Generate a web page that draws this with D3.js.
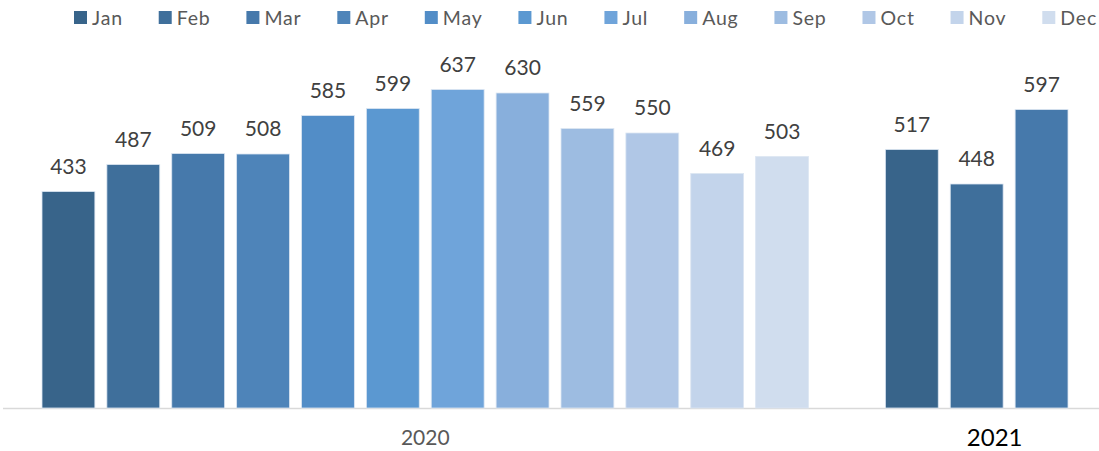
<!DOCTYPE html>
<html>
<head>
<meta charset="utf-8">
<script src="https://cdn.jsdelivr.net/npm/d3@7.9.0/dist/d3.min.js"></script>
<style>
  html, body { margin: 0; padding: 0; background: #fff; }
  svg { display: block; font-family: Lato, "Open Sans", sans-serif; }
</style>
</head>
<body>
<svg id="chart" width="1099" height="451"></svg>
<script>
// data
const months = ['Jan', 'Feb', 'Mar', 'Apr', 'May', 'Jun', 'Jul', 'Aug', 'Sep', 'Oct', 'Nov', 'Dec'];
const years = ['2020', '2021'];
const values2020 = [433, 487, 509, 508, 585, 599, 637, 630, 559, 550, 469, 503];
const values2021 = [517, 448, 597];
const monthColors = ['#38648a', '#3f6f9b', '#4679ab', '#4e84b9', '#528dc7', '#5b98d1',
                     '#6fa4da', '#88afdc', '#9dbce1', '#b0c7e6', '#c3d4eb', '#d0ddee'];

const svg = d3.select('#chart');
const width = 1099, baseY = 408;

// one row per bar, plus an empty slot between the years
let bars = [];
values2020.forEach((v, i) => bars.push({ key: '2020-' + months[i], year: '2020', month: i, value: v }));
values2021.forEach((v, i) => bars.push({ key: '2021-' + months[i], year: '2021', month: i, value: v }));
let slots = bars.slice(0, 12).map(d => d.key).concat(['gap'], bars.slice(12).map(d => d.key));

let x = d3.scaleBand().domain(slots).range([36, 1074]).paddingInner(0.185).paddingOuter(0.0925);
let y = d3.scaleLinear().domain([0, 800]).range([baseY, 8]);
let color = d3.scaleOrdinal().domain(months).range(monthColors);

// axis line
svg.append('line')
    .attr('x1', 3).attr('x2', width)
    .attr('y1', baseY + 0.5).attr('y2', baseY + 0.5)
    .attr('stroke', '#d9d9d9').attr('stroke-width', 1.5);

svg.append('g').selectAll('rect')
    .data(bars)
    .join('rect')
    .attr('x', d => x(d.key))
    .attr('y', d => y(d.value))
    .attr('width', x.bandwidth())
    .attr('height', d => y(0) - y(d.value))
    .attr('fill', d => color(months[d.month]))
    .attr('stroke', '#dce6f2')
    .attr('stroke-width', 0.8);

// value labels
svg.append('g').selectAll('text')
    .data(bars)
    .join('text')
    .attr('x', d => x(d.key) + x.bandwidth() / 2)
    .attr('y', d => y(d.value) - 18)
    .attr('text-anchor', 'middle')
    .attr('font-size', 21)
    .attr('fill', '#404040')
    .text(d => d.value);

// year labels
let firstOf = yr => bars.find(d => d.year === yr).key;
let lastOf = yr => bars.filter(d => d.year === yr).slice(-1)[0].key;
let yearCenter = yr => (x(firstOf(yr)) + x(lastOf(yr)) + x.bandwidth()) / 2;

svg.append('text')
    .attr('x', yearCenter(years[0]))
    .attr('y', 445)
    .attr('text-anchor', 'middle')
    .attr('font-size', 21)
    .attr('fill', '#595959')
    .text(years[0]);

svg.append('text')
    .attr('x', yearCenter(years[1]) + 18)
    .attr('y', 446)
    .attr('text-anchor', 'middle')
    .attr('font-size', 24)
    .attr('fill', '#000')
    .text(years[1]);

// legend, spread between the first square and the end of "Dec"
let legend = svg.append('g');
let items = months.map(m => {
    let g = legend.append('g');
    g.append('rect').attr('width', 13).attr('height', 13).attr('y', 11).attr('fill', color(m));
    let t = g.append('text')
        .attr('x', 18).attr('y', 25)
        .attr('font-size', 19.5)
        .attr('letter-spacing', 0.8)
        .attr('fill', '#595959')
        .text(m);
    return { g: g, w: 18 + t.node().getComputedTextLength() };
});
let legendStart = 74, legendEnd = 1097;
let totalW = d3.sum(items, d => d.w);
let gap = (legendEnd - legendStart - totalW) / (items.length - 1);
let cx = legendStart;
items.forEach(d => {
    d.g.attr('transform', `translate(${cx},0)`);
    cx += d.w + gap;
});
</script>
</body>
</html>
